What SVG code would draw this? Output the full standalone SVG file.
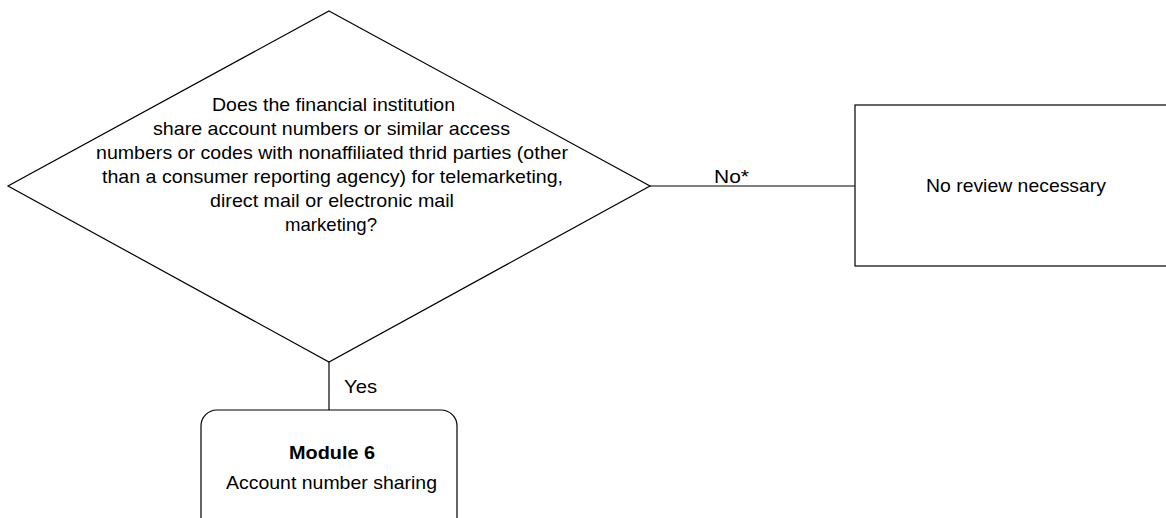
<svg xmlns="http://www.w3.org/2000/svg" width="1166" height="518" viewBox="0 0 1166 518">
<style>
.s{fill:#fff;stroke:#000;stroke-width:1.2}
.c{fill:none;stroke:#000;stroke-width:1.2}
text{font-family:"Liberation Sans Narrow","Liberation Sans",Arial,sans-serif;font-size:19px;fill:#000}
.b{font-weight:bold}
</style>
<rect width="1166" height="518" fill="#fff"/>
<g id="connectors">
<line class="c" x1="650" y1="186" x2="855" y2="186"/>
<line class="c" x1="329" y1="362" x2="329" y2="410"/>
<text x="714" y="183" textLength="35" lengthAdjust="spacingAndGlyphs">No*</text>
<text x="344" y="393" textLength="33" lengthAdjust="spacingAndGlyphs">Yes</text>
</g>
<g id="decision">
<polygon class="s" points="329,11 650,186 329,362 8,186"/>
<text x="212" y="111" textLength="243" lengthAdjust="spacingAndGlyphs">Does the financial institution</text>
<text x="153" y="135" textLength="357" lengthAdjust="spacingAndGlyphs">share account numbers or similar access</text>
<text x="96" y="159" textLength="472" lengthAdjust="spacingAndGlyphs">numbers or codes with nonaffiliated thrid parties (other</text>
<text x="102" y="183" textLength="461" lengthAdjust="spacingAndGlyphs">than a consumer reporting agency) for telemarketing,</text>
<text x="210" y="207" textLength="244" lengthAdjust="spacingAndGlyphs">direct mail or electronic mail</text>
<text x="285" y="231" textLength="92" lengthAdjust="spacingAndGlyphs">marketing?</text>
</g>
<g id="no-review">
<rect class="s" x="855" y="105" width="320" height="161"/>
<text x="926" y="192" textLength="180" lengthAdjust="spacingAndGlyphs">No review necessary</text>
</g>
<g id="module6">
<rect class="s" x="201" y="410" width="256" height="130" rx="16" ry="16"/>
<text class="b" x="289" y="459" textLength="86" lengthAdjust="spacingAndGlyphs">Module 6</text>
<text x="226" y="489" textLength="211" lengthAdjust="spacingAndGlyphs">Account number sharing</text>
</g>
</svg>
